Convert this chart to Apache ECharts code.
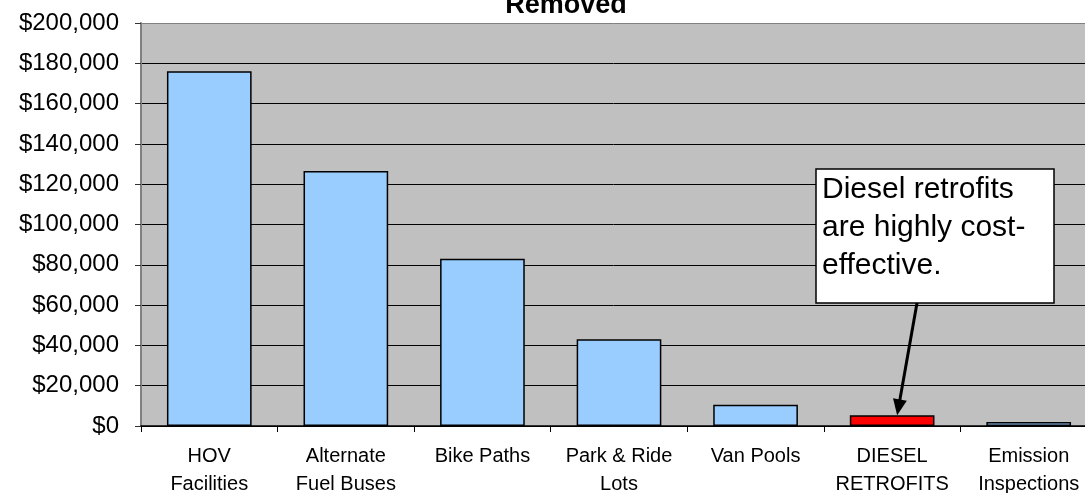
<!DOCTYPE html>
<html>
<head>
<meta charset="utf-8">
<script src="https://cdn.jsdelivr.net/npm/echarts@6/dist/echarts.min.js"></script>
<style>
html,body{margin:0;padding:0;background:#fff;}
#chart{width:1085px;height:493px;}
</style>
</head>
<body>
<div id="chart"></div>
<script>
var categories = ['HOV\nFacilities', 'Alternate\nFuel Buses', 'Bike Paths', 'Park & Ride\nLots', 'Van Pools', 'DIESEL\nRETROFITS', 'Emission\nInspections'];
var costPerTon = [176000, 126500, 83000, 43000, 10500, 5300, 2000];
var yTicks = [0, 20000, 40000, 60000, 80000, 100000, 120000, 140000, 160000, 180000, 200000];
var titleText = 'Removed';
var noteLines = ['Diesel retrofits', 'are highly cost-', 'effective.'];
var highlightIndex = 5;

var FONT = '"Liberation Sans", Arial, sans-serif';
var chart = echarts.init(document.getElementById('chart'), null, {renderer: 'canvas'});

var splitColors = yTicks.map(function (v, i) { return i === yTicks.length - 1 ? '#808080' : '#000000'; });

var option = {
  backgroundColor: '#ffffff',
  animation: false,
  grid: {
    left: 141, top: 23, width: 956, height: 403,
    containLabel: false, outerBoundsMode: 'none',
    show: true, backgroundColor: '#C0C0C0', borderWidth: 0
  },
  xAxis: {
    type: 'category',
    data: categories,
    boundaryGap: true,
    axisLine: {show: true, lineStyle: {color: '#000000', width: 1.5}},
    axisTick: {show: true, length: 6, lineStyle: {color: '#000000', width: 1}},
    axisLabel: {
      interval: 0, margin: 16, color: '#000000', fontSize: 20, lineHeight: 28,
      fontFamily: FONT, verticalAlign: 'top'
    },
    splitLine: {show: false}
  },
  yAxis: {
    type: 'value',
    min: yTicks[0], max: yTicks[yTicks.length - 1], interval: 20000,
    axisLine: {show: true, lineStyle: {color: '#808080', width: 2}},
    axisTick: {show: true, length: 6, lineStyle: {color: '#333333', width: 1}},
    axisLabel: {
      margin: 22, color: '#000000', fontSize: 24, fontFamily: FONT,
      formatter: function (v) { return '$' + v.toLocaleString('en-US'); }
    },
    splitLine: {show: true, lineStyle: {color: splitColors, width: 1}}
  },
  series: [{
    type: 'bar',
    data: costPerTon,
    barWidth: '62%',
    itemStyle: {
      color: function (p) { return p.dataIndex === highlightIndex ? '#FF0000' : '#99CCFF'; },
      borderColor: '#000000',
      borderWidth: 1.5
    }
  }]
};
chart.setOption(option);

// Annotation: callout box and arrow pointing to the highlighted bar
var tip = chart.convertToPixel({gridIndex: 0}, [highlightIndex, costPerTon[highlightIndex]]);
var tx = tip[0] + 5, ty = tip[1];
var sx = 917, sy = 303;
var dx = tx - sx, dy = ty - sy, len = Math.sqrt(dx * dx + dy * dy);
var ux = dx / len, uy = dy / len, nx = -uy, ny = ux;
var headL = 16, headW = 7;
var bx = tx - headL * ux, by = ty - headL * uy;

chart.setOption({
  graphic: [
    {
      type: 'text', x: 566, y: 19, z: 100,
      style: {text: titleText, font: 'bold 27px ' + FONT, fill: '#000', align: 'center', verticalAlign: 'bottom'}
    },
    {
      type: 'rect', z: 100,
      shape: {x: 816, y: 169, width: 238, height: 134},
      style: {fill: '#ffffff', stroke: '#000000', lineWidth: 1.5}
    },
    {
      type: 'text', z: 101, x: 822, y: 171,
      style: {text: noteLines.join('\n'), font: '30px ' + FONT, fill: '#000', lineHeight: 38, align: 'left', verticalAlign: 'top'}
    },
    {
      type: 'line', z: 100,
      shape: {x1: sx, y1: sy, x2: bx + 2 * ux, y2: by + 2 * uy},
      style: {stroke: '#000000', lineWidth: 3}
    },
    {
      type: 'polygon', z: 100,
      shape: {points: [[tx, ty], [bx + headW * nx, by + headW * ny], [bx - headW * nx, by - headW * ny]]},
      style: {fill: '#000000'}
    }
  ]
});
</script>
</body>
</html>
